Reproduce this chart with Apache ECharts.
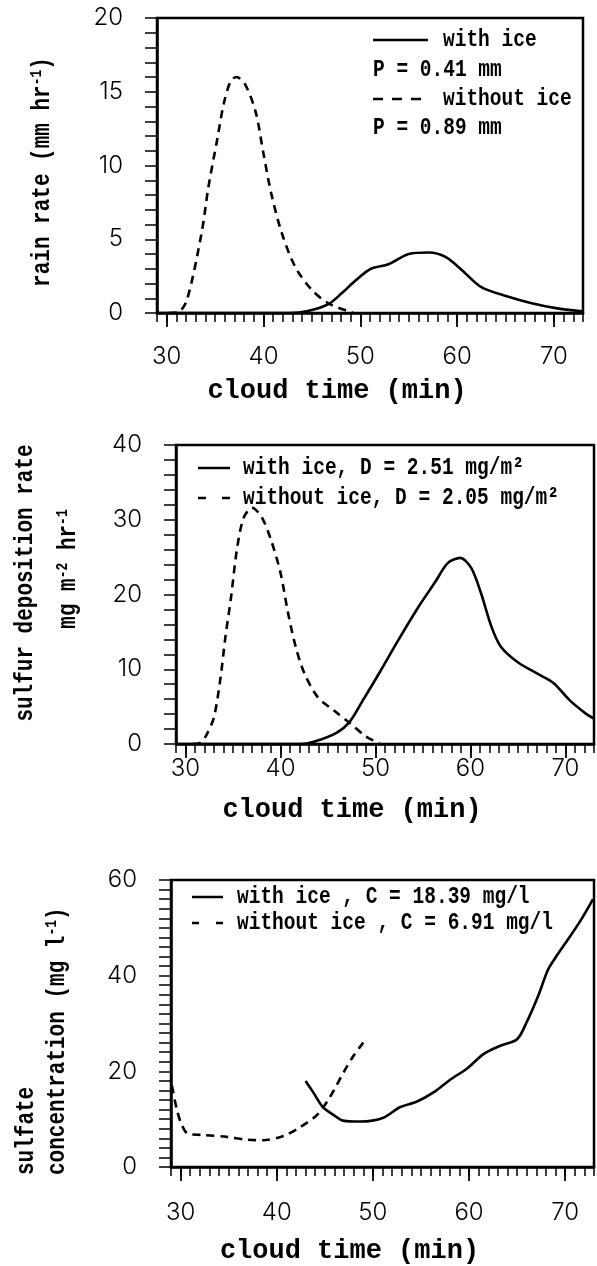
<!DOCTYPE html>
<html>
<head>
<meta charset="utf-8">
<script src="https://cdn.jsdelivr.net/npm/echarts@6/dist/echarts.min.js"></script>
<style>
html,body{margin:0;padding:0;background:#fff;}
#chart{width:597px;height:1266px;}
</style>
</head>
<body>
<div id="chart"></div>
<script>
// ---------- data ----------
const xTickLabels = [30, 40, 50, 60, 70];
const rainYLabels = [0, 5, 10, 15, 20];
const depYLabels = [0, 10, 20, 30, 40];
const sulfYLabels = [0, 20, 40, 60];

// panel 1: rain rate (mm/hr)
const rainWithIce = [
  [29, 0], [42.6, 0], [44.7, 0.15], [46.7, 0.6], [48.1, 1.35], [49.5, 2.2], [51.1, 3.0],
  [52.9, 3.3], [55.0, 4.0], [57.1, 4.1], [58.8, 3.8], [60.5, 2.9], [62.5, 1.75],
  [65.3, 1.1], [67.7, 0.66], [70.2, 0.33], [72.9, 0.12]
];
const rainWithoutIce = [
  [30.2, 0], [31.2, 0.05], [32.1, 0.9], [33.6, 5.4], [34.3, 8.5], [35.2, 11.7], [35.9, 14.2],
  [36.6, 15.7], [37.2, 16.0], [38.1, 15.5], [39.2, 13.6], [40.0, 10.8], [40.8, 8.1],
  [41.9, 5.4], [43.3, 3.1], [45.0, 1.56], [46.7, 0.66], [48.8, 0.1], [49.3, 0]
];

// panel 2: sulfur deposition rate (mg m-2 hr-1)
const depWithIce = [
  [29, 0], [42.1, 0], [43.5, 0.3], [45.9, 1.5], [47.3, 3.0], [48.7, 5.9], [50.4, 9.5],
  [52.4, 13.9], [54.5, 18.3], [56.3, 21.7], [57.6, 24.2], [58.9, 24.9], [60.1, 23.5],
  [61.1, 20.2], [62.2, 15.7], [63.2, 13.0], [64.9, 11.0], [66.9, 9.5], [68.7, 8.2],
  [70.4, 5.9], [72.1, 4.1], [73, 3.4]
];
const depWithoutIce = [
  [30.8, 0], [31.5, 0.1], [32.2, 1.2], [33.0, 3.6], [33.7, 9.0], [34.2, 14.3], [34.8, 19.7],
  [35.4, 25.9], [36.1, 30.2], [37.0, 31.6], [38.0, 30.4], [39.0, 27.3], [40.0, 22.9],
  [40.8, 17.5], [41.6, 13.0], [42.5, 9.5], [43.9, 6.3], [45.6, 4.5], [47.3, 2.8],
  [49.0, 1.0], [50.4, 0.1]
];

// panel 3: sulfate concentration (mg/l)
const sulfWithIce = [
  [43.0, 18.0], [43.8, 15.6], [44.8, 12.5], [45.9, 10.9], [46.9, 9.7], [48.7, 9.5],
  [51.1, 10.3], [52.8, 12.5], [54.6, 13.7], [56.3, 15.6], [58.0, 18.2], [59.8, 20.6],
  [61.5, 23.6], [63.2, 25.3], [65.0, 26.7], [66.0, 30.3], [67.2, 35.8], [68.2, 41.2],
  [69.0, 43.8], [70.2, 47.3], [71.6, 51.5], [72.9, 56.0]
];
const sulfWithoutIce = [
  [29.1, 17.0], [29.6, 12.1], [30.1, 8.9], [30.8, 6.9], [32.3, 6.7], [34.8, 6.3],
  [36.9, 5.7], [38.6, 5.6], [40.7, 6.5], [42.4, 8.3], [44.2, 10.9], [45.5, 14.5],
  [46.9, 19.6], [47.9, 23.0], [49.0, 26.0]
];

// ---------- chart ----------
const LABEL_FONT = {color: '#000', fontFamily: 'Inter, Roboto, sans-serif', fontWeight: 300, fontSize: 24};
const MONO = '"Liberation Mono", "DejaVu Sans Mono", monospace';

function labelOnly(list) {
  return function (v) { return list.indexOf(Math.round(v * 1000) / 1000) >= 0 ? String(v) : ''; };
}

function xAxesFor(grid, labelMargin, nameGap) {
  return [
    {
      type: 'value', gridIndex: grid, min: 29, max: 73, interval: 1, position: 'bottom',
      axisLine: {show: true, onZero: false, lineStyle: {color: '#000', width: 2.5}},
      axisTick: {show: true, length: 9, lineStyle: {color: '#000', width: 1.5}},
      axisLabel: Object.assign({margin: labelMargin, formatter: labelOnly(xTickLabels),
        showMinLabel: true, showMaxLabel: true, hideOverlap: false}, LABEL_FONT),
      splitLine: {show: false},
      name: 'cloud time (min)', nameLocation: 'middle', nameGap: nameGap, nameMoveOverlap: false,
      nameTextStyle: {color: '#000', fontFamily: MONO, fontWeight: 'bold', fontSize: 27, padding: [0, 66, 0, 0]}
    },
    {
      type: 'value', gridIndex: grid, min: 29, max: 73, position: 'bottom',
      axisLine: {show: false},
      axisTick: {show: true, customValues: xTickLabels, length: 14, lineStyle: {color: '#000', width: 1.8}},
      axisLabel: {show: false},
      splitLine: {show: false}
    }
  ];
}

function yAxisFor(grid, max, interval, labels) {
  return {
    type: 'value', gridIndex: grid, min: 0, max: max, interval: interval,
    axisLine: {show: true, lineStyle: {color: '#000', width: 2.5}},
    axisTick: {show: true, length: 12, lineStyle: {color: '#000', width: 1.5}},
    axisLabel: Object.assign({margin: 34, formatter: labelOnly(labels), hideOverlap: false}, LABEL_FONT),
    splitLine: {show: false}
  };
}

function lineSeries(name, data, xIdx, yIdx, dashed) {
  return {
    name: name, type: 'line', data: data, xAxisIndex: xIdx, yAxisIndex: yIdx,
    showSymbol: false, symbol: 'none', smooth: 0.3, animation: false,
    lineStyle: {color: '#000', width: 2.6, type: dashed ? [8, 6] : 'solid'}
  };
}

function legText(x, y, text) {
  return {type: 'text', x: x, y: y, scaleY: 1.25, silent: true,
    style: {text: text, font: 'bold 19.5px ' + MONO, fill: '#000', align: 'left', verticalAlign: 'middle'}};
}
function legLine(x1, x2, y, dash) {
  return {type: 'line', silent: true, shape: {x1: x1, y1: y, x2: x2, y2: y},
    style: {stroke: '#000', lineWidth: 2.5, lineDash: dash || null}};
}
const SUP = {sup: {font: 'bold 13px ' + MONO, fill: '#000', verticalAlign: 'top', padding: [0, 0, 8, 0]},
             n: {font: 'bold 21px ' + MONO, fill: '#000'}};
function yTitle(x, y, rich, align) {
  return {type: 'text', x: x, y: y, rotation: Math.PI / 2, scaleY: 1.25, silent: true,
    style: {text: rich, rich: SUP, font: 'bold 21px ' + MONO, fill: '#000', align: align || 'center', verticalAlign: 'middle'}};
}

const option = {
  animation: false,
  backgroundColor: '#fff',
  grid: [
    {left: 157, top: 18, width: 426, height: 295, show: true, borderColor: '#000', borderWidth: 2.5, backgroundColor: 'transparent'},
    {left: 176, top: 445, width: 426, height: 299, show: true, borderColor: '#000', borderWidth: 2.5, backgroundColor: 'transparent'},
    {left: 171, top: 880, width: 423, height: 297, show: true, borderColor: '#000', borderWidth: 2.5, backgroundColor: 'transparent'}
  ],
  xAxis: [].concat(xAxesFor(0, 32, 65), xAxesFor(1, 13, 53), xAxesFor(2, 34, 71)),
  yAxis: [
    yAxisFor(0, 20, 1, rainYLabels),
    yAxisFor(1, 40, 2, depYLabels),
    yAxisFor(2, 60, 2, sulfYLabels)
  ],
  series: [
    lineSeries('with ice', rainWithIce, 0, 0, false),
    lineSeries('without ice', rainWithoutIce, 0, 0, true),
    lineSeries('with ice', depWithIce, 2, 1, false),
    lineSeries('without ice', depWithoutIce, 2, 1, true),
    lineSeries('with ice', sulfWithIce, 4, 2, false),
    lineSeries('without ice', sulfWithoutIce, 4, 2, true)
  ],
  graphic: [
    // panel 1 legend
    legLine(373, 428, 40), legText(443, 40, 'with ice'),
    legText(373, 70, 'P = 0.41 mm'),
    legLine(373, 428, 99, [10, 9]), legText(443, 99, 'without ice'),
    legText(373, 128, 'P = 0.89 mm'),
    // panel 2 legend
    legLine(198, 230, 468), legText(243, 468, 'with ice, D = 2.51 mg/m²'),
    legLine(198, 230, 498, [8, 16]), legText(243, 498, 'without ice, D = 2.05 mg/m²'),
    // panel 3 legend
    legLine(192, 223, 897), legText(237, 897, 'with ice , C = 18.39 mg/l'),
    legLine(192, 223, 923, [7, 17]), legText(237, 923, 'without ice , C = 6.91 mg/l'),
    // y axis titles
    yTitle(42, 172, '{n|rain rate (mm hr}{sup|-1}{n|)}'),
    yTitle(25, 583, '{n|sulfur deposition rate}'),
    yTitle(68, 569, '{n|mg m}{sup|-2}{n| hr}{sup|-1}'),
    yTitle(26, 1175, '{n|sulfate}', 'left'),
    yTitle(57, 1175, '{n|concentration (mg l}{sup|-1}{n|)}', 'left')
  ]
};

const chart = echarts.init(document.getElementById('chart'), null, {renderer: 'canvas'});
chart.setOption(option);
</script>
</body>
</html>
